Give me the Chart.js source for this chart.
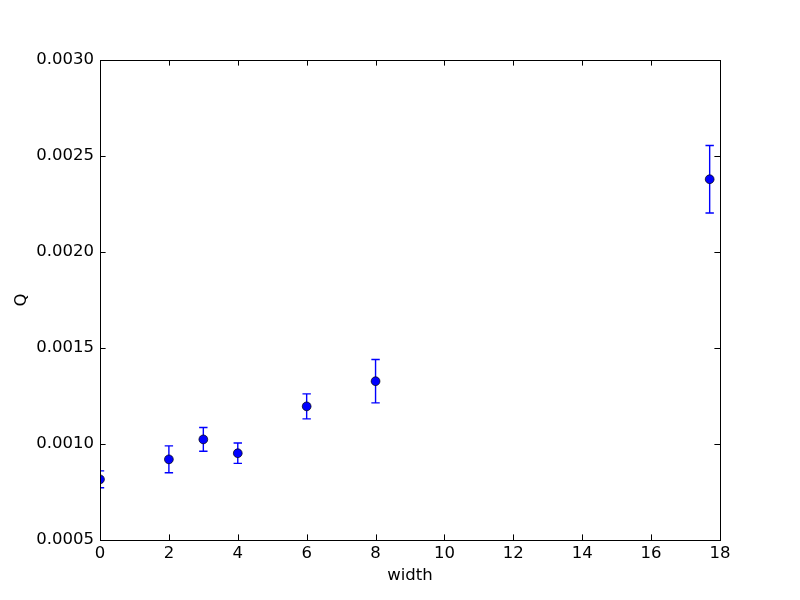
<!DOCTYPE html>
<html>
<head>
<meta charset="utf-8">
<script src="https://cdn.jsdelivr.net/npm/chart.js@4/dist/chart.umd.min.js"></script>
<style>
html,body{margin:0;padding:0;background:#fff;}
#wrap{width:800px;height:600px;}
</style>
</head>
<body>
<div id="wrap"><canvas id="c" width="800" height="600"></canvas></div>
<script>
const widths = [0, 2, 3, 4, 6, 8, 17.7];
const qValues = [0.000816, 0.000920, 0.001024, 0.000952, 0.001196, 0.001327, 0.002379];
const qErrors = [0.000044, 0.000070, 0.000062, 0.000053, 0.000065, 0.000113, 0.000176];
const xTicks = [0, 2, 4, 6, 8, 10, 12, 14, 16, 18];
const yTicks = [0.0005, 0.0010, 0.0015, 0.0020, 0.0025, 0.0030];

const FONT = {family: '"DejaVu Sans", sans-serif', size: 16.5};

const errorBarPlugin = {
  id: 'errorBars',
  beforeDatasetsDraw(chart) {
    const ctx = chart.ctx;
    const a = chart.chartArea;
    const xs = chart.scales.x, ys = chart.scales.y;
    ctx.save();
    ctx.beginPath();
    ctx.rect(a.left, a.top, a.right - a.left, a.bottom - a.top);
    ctx.clip();
    ctx.strokeStyle = '#0000ff';
    ctx.lineWidth = 1.4;
    widths.forEach((w, i) => {
      const px = xs.getPixelForValue(w);
      const top = ys.getPixelForValue(qValues[i] + qErrors[i]);
      const bot = ys.getPixelForValue(qValues[i] - qErrors[i]);
      ctx.beginPath();
      ctx.moveTo(px, top); ctx.lineTo(px, bot);
      ctx.moveTo(px - 4.2, top); ctx.lineTo(px + 4.2, top);
      ctx.moveTo(px - 4.2, bot); ctx.lineTo(px + 4.2, bot);
      ctx.stroke();
    });
    ctx.restore();
  }
};

const frameTicksPlugin = {
  id: 'frameTicks',
  afterDraw(chart) {
    const ctx = chart.ctx;
    const a = chart.chartArea;
    const xs = chart.scales.x, ys = chart.scales.y;
    ctx.save();
    ctx.strokeStyle = '#000';
    ctx.lineWidth = 1;
    ctx.beginPath();
    const L = 5.6;
    xTicks.forEach(v => {
      const px = Math.round(xs.getPixelForValue(v)) + 0.5;
      ctx.moveTo(px, a.bottom); ctx.lineTo(px, a.bottom - L);
      ctx.moveTo(px, a.top); ctx.lineTo(px, a.top + L);
    });
    yTicks.forEach(v => {
      const py = Math.round(ys.getPixelForValue(v)) + 0.5;
      ctx.moveTo(a.left, py); ctx.lineTo(a.left + L, py);
      ctx.moveTo(a.right, py); ctx.lineTo(a.right - L, py);
    });
    ctx.stroke();
    ctx.strokeRect(Math.round(a.left) + 0.5, Math.round(a.top) + 0.5,
                   Math.round(a.right - a.left), Math.round(a.bottom - a.top));
    ctx.restore();
  }
};

new Chart(document.getElementById('c'), {
  type: 'scatter',
  data: {
    datasets: [{
      data: widths.map((w, i) => ({x: w, y: qValues[i]})),
      backgroundColor: '#0000ff',
      borderColor: '#000',
      borderWidth: 0.7,
      pointRadius: 4.4,
      pointHoverRadius: 4.4,
      showLine: false
    }]
  },
  options: {
    responsive: false,
    animation: false,
    events: [],
    layout: {padding: {left: 0, top: 60, right: 80, bottom: 0}},
    plugins: {legend: {display: false}, tooltip: {enabled: false}},
    scales: {
      x: {
        type: 'linear',
        min: 0, max: 18,
        afterBuildTicks(s) { s.ticks = xTicks.map(v => ({value: v})); },
        afterFit(s) { s.height = 60; },
        grid: {display: false, drawTicks: false},
        border: {display: false},
        ticks: {color: '#000', font: FONT, padding: 4, maxRotation: 0,
                callback: v => String(v)},
        title: {display: true, text: 'width', color: '#000', font: FONT,
                padding: {top: 0, bottom: 14}}
      },
      y: {
        type: 'linear',
        min: 0.0005, max: 0.0030,
        afterBuildTicks(s) { s.ticks = yTicks.map(v => ({value: v})); },
        afterFit(s) { s.width = 100; },
        grid: {display: false, drawTicks: false},
        border: {display: false},
        ticks: {color: '#000', font: FONT, padding: 6,
                callback: v => Number(v).toFixed(4)},
        title: {display: true, text: 'Q', color: '#000', font: FONT,
                padding: {top: 12, bottom: 0}}
      }
    }
  },
  plugins: [errorBarPlugin, frameTicksPlugin]
});
</script>
</body>
</html>
